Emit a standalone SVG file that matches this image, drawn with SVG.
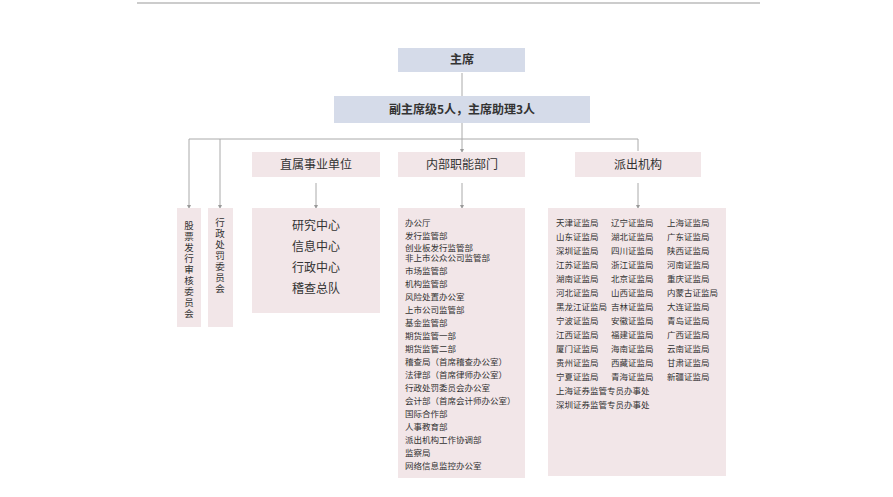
<svg xmlns="http://www.w3.org/2000/svg" width="893" height="497" viewBox="0 0 893 497">
<style>
text{font-family:"Noto Sans CJK SC","Liberation Sans",sans-serif;fill:#333}
.b{fill:#d5dbe9}.p{fill:#f2e6e8}
.h{font-size:12px;font-weight:bold;text-anchor:middle}
.c{font-size:12px;text-anchor:middle}
.s{font-size:8.5px}
.v{font-size:9.5px;writing-mode:vertical-rl;letter-spacing:1.5px}
.ln{stroke:#aaa;stroke-width:1;fill:none}
</style>
<defs><marker id="a" markerWidth="4" markerHeight="4" refX="2" refY="2" orient="auto"><path d="M0,0L4,2L0,4z" fill="#999"/></marker></defs>
<rect width="893" height="497" fill="#fff"/>
<line x1="137" y1="3" x2="760" y2="3" stroke="#999"/>
<g id="connectors" class="ln">
<path d="M462,73V96M462,123V139M189,139H638M189,139V207" marker-end="url(#a)"/>
<path d="M220,139V207" marker-end="url(#a)"/>
<path d="M462,139V151" marker-end="url(#a)"/>
<path d="M638,139V151"/>
<path d="M316,183V207" marker-end="url(#a)"/>
<path d="M462,183V207" marker-end="url(#a)"/>
<path d="M638,183V207" marker-end="url(#a)"/>
</g>
<g id="chair"><rect class="b" x="398" y="48" width="127" height="24"/><text class="h" x="462" y="64">主席</text></g>
<g id="vice"><rect class="b" x="334" y="96" width="256" height="27"/><text class="h" x="462" y="114">副主席级5人，主席助理3人</text></g>
<g id="zhishu"><rect class="p" x="252" y="152" width="128" height="25"/><text class="c" x="316" y="169">直属事业单位</text></g>
<g id="neibu"><rect class="p" x="398" y="152" width="127" height="25"/><text class="c" x="462" y="169">内部职能部门</text></g>
<g id="paichu"><rect class="p" x="575" y="152" width="126" height="25"/><text class="c" x="638" y="169">派出机构</text></g>
<g id="gupiao"><rect class="p" x="177" y="208" width="24" height="119"/>
<text class="v" x="189" y="221">股票发行审核委员会</text></g>
<g id="xingzheng"><rect class="p" x="208" y="208" width="25" height="119"/>
<text class="v" x="220" y="218">行政处罚委员会</text></g>
<g id="zhishu-list"><rect class="p" x="252" y="208" width="128" height="105"/>
<text class="c" font-size="11"><tspan x="316" y="230">研究中心</tspan><tspan x="316" y="251">信息中心</tspan><tspan x="316" y="272">行政中心</tspan><tspan x="316" y="293">稽查总队</tspan></text></g>
<g id="neibu-list"><rect class="p" x="398" y="208" width="127" height="270"/>
<text class="s"><tspan x="405" y="226">办公厅</tspan><tspan x="405" y="239">发行监管部</tspan><tspan x="405" y="251">创业板发行监管部</tspan><tspan x="405" y="261">非上市公众公司监管部</tspan><tspan x="405" y="274">市场监管部</tspan><tspan x="405" y="287">机构监管部</tspan><tspan x="405" y="300">风险处置办公室</tspan><tspan x="405" y="313">上市公司监管部</tspan><tspan x="405" y="326">基金监管部</tspan><tspan x="405" y="339">期货监管一部</tspan><tspan x="405" y="352">期货监管二部</tspan><tspan x="405" y="365">稽查局（首席稽查办公室）</tspan><tspan x="405" y="378">法律部（首席律师办公室）</tspan><tspan x="405" y="391">行政处罚委员会办公室</tspan><tspan x="405" y="404">会计部（首席会计师办公室）</tspan><tspan x="405" y="417">国际合作部</tspan><tspan x="405" y="430">人事教育部</tspan><tspan x="405" y="443">派出机构工作协调部</tspan><tspan x="405" y="456">监察局</tspan><tspan x="405" y="469">网络信息监控办公室</tspan></text></g>
<g id="paichu-list"><rect class="p" x="548" y="208" width="178" height="268"/>
<text class="s">
<tspan x="556" y="226">天津证监局</tspan><tspan x="611" y="226">辽宁证监局</tspan><tspan x="667" y="226">上海证监局</tspan>
<tspan x="556" y="240">山东证监局</tspan><tspan x="611" y="240">湖北证监局</tspan><tspan x="667" y="240">广东证监局</tspan>
<tspan x="556" y="254">深圳证监局</tspan><tspan x="611" y="254">四川证监局</tspan><tspan x="667" y="254">陕西证监局</tspan>
<tspan x="556" y="268">江苏证监局</tspan><tspan x="611" y="268">浙江证监局</tspan><tspan x="667" y="268">河南证监局</tspan>
<tspan x="556" y="282">湖南证监局</tspan><tspan x="611" y="282">北京证监局</tspan><tspan x="667" y="282">重庆证监局</tspan>
<tspan x="556" y="296">河北证监局</tspan><tspan x="611" y="296">山西证监局</tspan><tspan x="667" y="296">内蒙古证监局</tspan>
<tspan x="556" y="310">黑龙江证监局</tspan><tspan x="611" y="310">吉林证监局</tspan><tspan x="667" y="310">大连证监局</tspan>
<tspan x="556" y="324">宁波证监局</tspan><tspan x="611" y="324">安徽证监局</tspan><tspan x="667" y="324">青岛证监局</tspan>
<tspan x="556" y="338">江西证监局</tspan><tspan x="611" y="338">福建证监局</tspan><tspan x="667" y="338">广西证监局</tspan>
<tspan x="556" y="352">厦门证监局</tspan><tspan x="611" y="352">海南证监局</tspan><tspan x="667" y="352">云南证监局</tspan>
<tspan x="556" y="366">贵州证监局</tspan><tspan x="611" y="366">西藏证监局</tspan><tspan x="667" y="366">甘肃证监局</tspan>
<tspan x="556" y="380">宁夏证监局</tspan><tspan x="611" y="380">青海证监局</tspan><tspan x="667" y="380">新疆证监局</tspan>
<tspan x="556" y="394">上海证券监管专员办事处</tspan>
<tspan x="556" y="408">深圳证券监管专员办事处</tspan></text></g>
</svg>
